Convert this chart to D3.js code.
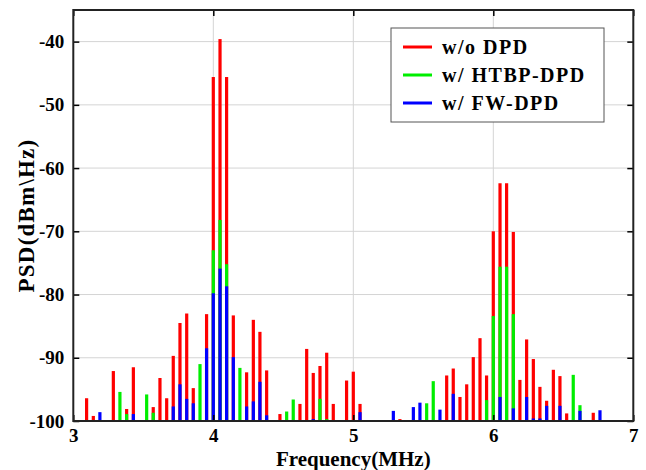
<!DOCTYPE html>
<html>
<head>
<meta charset="utf-8">
<script src="https://cdn.jsdelivr.net/npm/d3@7"></script>
<style>
  html, body { margin: 0; padding: 0; background: #fff; }
  svg { display: block; }
  text { font-family: "Liberation Serif", "Times New Roman", serif; font-weight: bold; fill: #000; }
</style>
</head>
<body>
<svg id="chart" width="646" height="470"></svg>
<script>
// Spectrum lines (MHz) and PSD per configuration (dBm/Hz); null = no visible line
const freqs = [3.095, 3.143, 3.190, 3.286, 3.333, 3.381, 3.429, 3.524, 3.571, 3.619,
  3.667, 3.714, 3.762, 3.810, 3.857, 3.905, 3.952, 4.000, 4.048, 4.095,
  4.143, 4.190, 4.238, 4.286, 4.333, 4.381, 4.476, 4.524, 4.571, 4.619,
  4.667, 4.714, 4.762, 4.810, 4.857, 4.952, 5.000, 5.048, 5.286, 5.333,
  5.429, 5.476, 5.524, 5.571, 5.619, 5.667, 5.714, 5.762, 5.810, 5.857,
  5.905, 5.952, 6.000, 6.048, 6.095, 6.143, 6.190, 6.238, 6.286, 6.333,
  6.381, 6.429, 6.476, 6.524, 6.571, 6.619, 6.714, 6.762];

const noDpd = [-96.4, -99.2, null, -92.1, null, -98.1, -91.5, null, -97.8, -93.2,
  -96.4, -89.7, -84.5, -83.0, -94.8, null, -83.1, -45.6, -39.6, -45.6,
  -83.3, null, -92.3, -84.0, -85.9, -92.0, -98.9, null, null, -97.3,
  -88.6, -92.4, -91.3, -89.2, -97.3, -93.6, -92.2, -97.3, null, -99.7,
  null, null, null, null, null, -92.8, -91.7, -96.2, -94.2, -89.9,
  -86.9, -92.8, -70.0, -62.4, -62.4, -70.1, -93.5, -87.1, -90.2, -94.6,
  -96.8, -91.9, -92.9, -98.8, null, null, -98.7, null];

const htbpDpd = [null, null, null, null, -95.4, -98.9, null, -95.8, -98.7, null,
  null, null, null, null, null, -91.0, null, -73.0, -68.2, -75.2,
  null, -91.6, null, null, null, null, null, -98.5, -96.6, null,
  null, null, -96.5, -99.7, null, null, null, null, null, null,
  null, null, -97.2, -93.7, null, null, null, null, null, null,
  null, -96.7, -83.4, -75.6, -75.6, -83.1, null, null, null, null,
  null, null, null, null, -92.7, -97.5, null, null];

const fwDpd = [null, null, -98.6, null, null, null, -98.9, null, null, null,
  null, -97.7, -94.2, -96.5, -97.2, null, -88.5, -79.8, -75.9, -78.7,
  -89.9, null, -97.7, -96.9, -93.8, -99.1, null, null, null, null,
  null, -99.7, null, null, null, null, null, -98.6, -98.4, null,
  -97.8, -97.1, null, null, -98.2, null, -95.7, null, null, null,
  null, null, null, -96.2, null, -98.0, null, -96.2, -99.6, -99.6,
  -97.6, null, -97.6, null, null, -98.4, null, -98.3];

const seriesNames = ["w/o DPD", "w/ HTBP-DPD", "w/ FW-DPD"];
const seriesColors = ["#ff0000", "#00ee00", "#0000ff"];
const xTicks = [3, 4, 5, 6, 7];
const yTicks = [-100, -90, -80, -70, -60, -50, -40];

const svg = d3.select("#chart");
const mLeft = 73.3, mRight = 633.3, mTop = 10, mBottom = 421;

const x = d3.scaleLinear().domain([3, 7]).range([mLeft, mRight]);
const y = d3.scaleLinear().domain([-100, -35]).range([mBottom, mTop]);

// grid
svg.append("g").selectAll("line").data(xTicks.slice(1, -1)).join("line")
  .attr("x1", d => x(d)).attr("x2", d => x(d)).attr("y1", mTop).attr("y2", mBottom)
  .attr("stroke", "#d4d4d4").attr("stroke-width", 1);
svg.append("g").selectAll("line").data(yTicks.slice(1)).join("line")
  .attr("x1", mLeft).attr("x2", mRight).attr("y1", d => y(d)).attr("y2", d => y(d))
  .attr("stroke", "#d4d4d4").attr("stroke-width", 1);

// spectral lines: drawn back to front so lower configurations overlay
const allSeries = [noDpd, htbpDpd, fwDpd];
const barW = 3.2;
allSeries.forEach((vals, i) => {
  const pts = freqs.map((f, k) => ({ f, v: vals[k] })).filter(d => d.v !== null);
  svg.append("g").selectAll("rect").data(pts).join("rect")
    .attr("x", d => x(d.f) - barW / 2)
    .attr("width", barW)
    .attr("y", d => y(d.v))
    .attr("height", d => y(-100) - y(d.v))
    .attr("fill", seriesColors[i]);
});

// axes with inward ticks on all four sides
const tickLen = 6;
const styleText = g => g.selectAll("text").attr("font-size", 19)
  .attr("font-family", "Liberation Serif").attr("font-weight", "bold").attr("fill", "#000");
svg.append("g").attr("transform", `translate(0,${mBottom})`)
  .call(d3.axisBottom(x).tickValues(xTicks).tickSize(-tickLen).tickPadding(7.5).tickFormat(d => String(d)))
  .call(g => g.select(".domain").remove())
  .call(g => g.selectAll("line").attr("stroke", "#000").attr("stroke-width", 1.5))
  .call(styleText);
svg.append("g").attr("transform", `translate(0,${mTop})`)
  .call(d3.axisTop(x).tickValues(xTicks).tickSize(-tickLen).tickFormat(""))
  .call(g => g.select(".domain").remove())
  .call(g => g.selectAll("line").attr("stroke", "#000").attr("stroke-width", 1.5));
svg.append("g").attr("transform", `translate(${mLeft},0)`)
  .call(d3.axisLeft(y).tickValues(yTicks).tickSize(-tickLen).tickPadding(9).tickFormat(d => String(d)))
  .call(g => g.select(".domain").remove())
  .call(g => g.selectAll("line").attr("stroke", "#000").attr("stroke-width", 1.5))
  .call(styleText);
svg.append("g").attr("transform", `translate(${mRight},0)`)
  .call(d3.axisRight(y).tickValues(yTicks).tickSize(-tickLen).tickFormat(""))
  .call(g => g.select(".domain").remove())
  .call(g => g.selectAll("line").attr("stroke", "#000").attr("stroke-width", 1.5));

// frame
svg.append("rect").attr("x", mLeft).attr("y", mTop)
  .attr("width", mRight - mLeft).attr("height", mBottom - mTop)
  .attr("fill", "none").attr("stroke", "#222").attr("stroke-width", 2);

// axis titles
svg.append("text").attr("x", (mLeft + mRight) / 2).attr("y", 465.5)
  .attr("text-anchor", "middle").attr("font-size", 21).text("Frequency(MHz)");
svg.append("text").attr("transform", `translate(34,${(mTop + mBottom) / 2}) rotate(-90)`)
  .attr("text-anchor", "middle").attr("font-size", 23).attr("letter-spacing", 1.2)
  .text("PSD(dBm\\Hz)");

// legend
const lg = svg.append("g").attr("transform", "translate(391,28)");
lg.append("rect").attr("width", 213).attr("height", 94)
  .attr("fill", "#fff").attr("stroke", "#555").attr("stroke-width", 1);
seriesNames.forEach((name, i) => {
  const yy = 19 + i * 28;
  lg.append("line").attr("x1", 12).attr("x2", 41).attr("y1", yy).attr("y2", yy)
    .attr("stroke", seriesColors[i]).attr("stroke-width", 3);
  lg.append("text").attr("x", 51).attr("y", yy + 7).attr("font-size", 20)
    .attr("letter-spacing", 1.5).text(name);
});
</script>
</body>
</html>
